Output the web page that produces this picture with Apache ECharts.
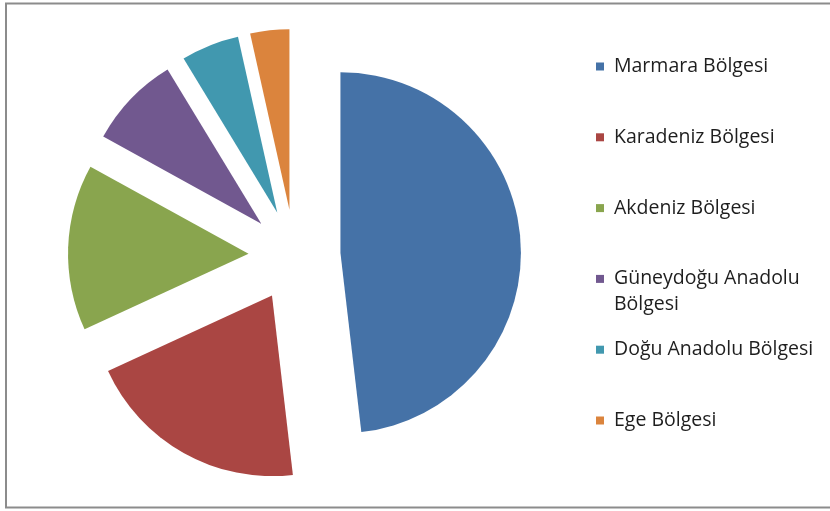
<!DOCTYPE html>
<html>
<head>
<meta charset="utf-8">
<script src="https://cdn.jsdelivr.net/npm/echarts@6/dist/echarts.min.js"></script>
<style>
  html, body { margin: 0; padding: 0; background: #fff; }
  #chart { width: 830px; height: 511px; }
</style>
</head>
<body>
<div id="chart"></div>
<script>
// Data
const categories = ['Marmara Bölgesi', 'Karadeniz Bölgesi', 'Akdeniz Bölgesi', 'Güneydoğu Anadolu Bölgesi', 'Doğu Anadolu Bölgesi', 'Ege Bölgesi'];
const values = [48.2, 20.0, 14.9, 8.3, 5.2, 3.5];
const legendLabels = ['Marmara Bölgesi', 'Karadeniz Bölgesi', 'Akdeniz Bölgesi', 'Güneydoğu Anadolu', 'Doğu Anadolu Bölgesi', 'Ege Bölgesi'];
const legendWrapLine = 'Bölgesi';
const colors = ['#4572A7', '#AA4643', '#89A54E', '#71588F', '#4198AF', '#DB843D'];

const chart = echarts.init(document.getElementById('chart'), null, { renderer: 'canvas' });

const pieData = categories.map((name, i) => ({
  name: name,
  value: values[i],
  selected: true,
  itemStyle: { color: colors[i] }
}));

const labelMap = {};
categories.forEach((c, i) => { labelMap[c] = legendLabels[i]; });

const option = {
  animation: false,
  backgroundColor: '#ffffff',
  color: colors,
  legend: {
    orient: 'vertical',
    left: 596,
    top: 56.5,
    padding: 0,
    itemWidth: 8,
    itemHeight: 8,
    itemGap: 50.8,
    icon: 'rect',
    selectedMode: false,
    data: categories,
    formatter: function (name) { return labelMap[name]; },
    textStyle: {
      fontFamily: 'Open Sans',
      fontSize: 19.5,
      lineHeight: 20,
      color: '#1e1e1e',
      padding: [0, 0, 0, 5]
    }
  },
  graphic: [
    {
      type: 'rect',
      silent: true,
      shape: { x: 6, y: 3.5, width: 1000, height: 504 },
      style: { fill: 'none', stroke: '#8c8c8c', lineWidth: 2 }
    },
    {
      type: 'text',
      silent: true,
      left: 614,
      top: 294.5,
      style: {
        text: legendWrapLine,
        fontFamily: 'Open Sans',
        fontSize: 19.5,
        fill: '#1e1e1e'
      }
    }
  ],
  series: [
    {
      type: 'pie',
      center: [294.5, 255.5],
      radius: 180.5,
      startAngle: 90,
      clockwise: true,
      selectedMode: 'multiple',
      selectedOffset: 46,
      avoidLabelOverlap: false,
      label: { show: false },
      labelLine: { show: false },
      itemStyle: { borderWidth: 0 },
      emphasis: { disabled: true },
      select: { itemStyle: { borderWidth: 0 } },
      data: pieData
    }
  ]
};

chart.setOption(option);
</script>
</body>
</html>
